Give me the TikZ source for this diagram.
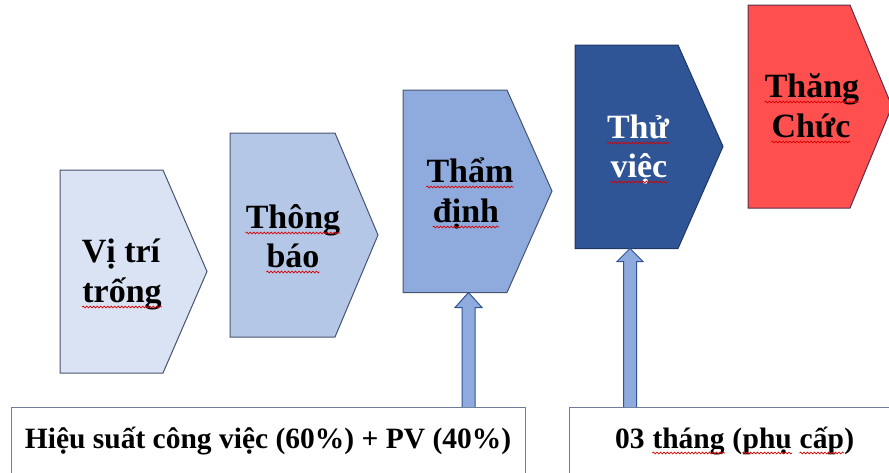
\documentclass[tikz,border=0pt]{standalone}
\usepackage{fontspec}
\setmainfont{Liberation Serif}
\usepackage{xcolor}
\usepackage{tikz}
\usetikzlibrary{calc}
\usetikzlibrary{positioning}
\usetikzlibrary{decorations.pathmorphing}

\definecolor{paleblue}{HTML}{DAE3F3}
\definecolor{lightblue}{HTML}{B4C7E7}
\definecolor{midblue}{HTML}{8FAADC}
\definecolor{darkblue}{HTML}{2F5597}
\definecolor{hotred}{HTML}{FF4F4F}
\definecolor{edgegray}{HTML}{475470}
\definecolor{edgenavy}{HTML}{1F3864}
\definecolor{edgeplum}{HTML}{5C2E4E}
\definecolor{boxgray}{HTML}{6E7E96}

\tikzset{
  chev/.style={draw=edgegray, line width=1pt, line join=miter},
  big/.style={font=\fontsize{34}{39}\selectfont\bfseries, anchor=base, inner sep=0pt},
  small/.style={font=\fontsize{29.5}{34}\selectfont\bfseries, anchor=base, inner sep=0pt},
  note/.style={draw=boxgray, line width=1.2pt, fill=white, anchor=north west},
  fatarrow/.style={draw=darkblue, fill=midblue, line width=1pt, line join=miter},
  squig/.style={draw=red!85!black, line width=0.7pt, decorate, decoration={snake, amplitude=0.9pt, segment length=3.5pt}}
}

\begin{document}
\begin{tikzpicture}[x=1pt,y=-1pt]
        
        \useasboundingbox (0,0) rectangle (889,472);
        
        % steps
        \draw[chev, fill=paleblue] (60,170) -- (163,170) -- (207,271.5) -- (163,373) -- (60,373) -- cycle;
        \draw[chev, fill=lightblue] (230,133) -- (335,133) -- (378,235) -- (335,337) -- (230,337) -- cycle;
        \draw[chev, fill=midblue] (403,90) -- (507,90) -- (552,191) -- (507,292.5) -- (403,292.5) -- cycle;
        \draw[chev, draw=edgenavy, fill=darkblue] (575,45) -- (678,45) -- (723,146.5) -- (678,248.5) -- (575,248.5) -- cycle;
        \draw[chev, draw=edgeplum, fill=hotred] (748,5) -- (850,5) -- (892,106.5) -- (850,208) -- (748,208) -- cycle;
        
        \node[big] (vitri) at (121,262) {Vị trí};
        \node[big] (trong) at (122,302) {trống};
        \node[big] (thong) at (293,228) {Thông};
        \node[big] (bao) at (293,267) {báo};
        \node[big] (tham) at (470,182) {Thẩm};
        \node[big] (dinh) at (466,222) {định};
        \node[big, text=white] (thu) at (638,138) {Thử};
        \node[big, text=white] (viec) at (639,177) {việc};
        \node[big] (thang) at (812,97) {Thăng};
        \node[big] (chuc) at (811,137) {Chức};
        
        % notes
        \node[note, minimum width=514, minimum height=90] (box1) at (11,407) {};
        \node[note, minimum width=340, minimum height=90] (box2) at (569,407) {};
        
        \node[small] (hieusuat) at (268,448) {Hiệu suất công việc (60\%) + PV (40\%)};
        
        \node[small, anchor=base west] (w03) at (615,448) {03};
        \node[small, base right=7.4pt of w03] (wthang) {tháng};
        \node[small, base right=7.4pt of wthang] (wopen) {(};
        \node[small, base right=0pt of wopen] (wphu) {phụ};
        \node[small, base right=7.4pt of wphu] (wcap) {cấp};
        \node[small, base right=0pt of wcap] (wclose) {)};
        
        % spell-check waves
        \draw[squig] ([yshift=-5pt]trong.base west) -- ([yshift=-5pt]trong.base east);
        \draw[squig] ([yshift=-5pt]thong.base west) -- ([yshift=-5pt]thong.base east);
        \draw[squig] ([yshift=-5pt]bao.base west) -- ([yshift=-5pt]bao.base east);
        \draw[squig] ([yshift=-5pt]tham.base west) -- ([yshift=-5pt]tham.base east);
        \draw[squig] ([yshift=-5pt]dinh.base west) -- ([yshift=-5pt]dinh.base east);
        \draw[squig] ([yshift=-5pt]thu.base west) -- ([yshift=-5pt]thu.base east);
        \draw[squig] ([yshift=-5pt]viec.base west) -- ([yshift=-5pt]viec.base east);
        \draw[squig] ([yshift=-5pt]thang.base west) -- ([yshift=-5pt]thang.base east);
        \draw[squig] ([yshift=-5pt]chuc.base west) -- ([yshift=-5pt]chuc.base east);
        \draw[squig] ([yshift=-5pt]wthang.base west) -- ([yshift=-5pt]wthang.base east);
        \draw[squig] ([yshift=-5pt]wphu.base west) -- ([yshift=-5pt]wphu.base east);
        \draw[squig] ([yshift=-5pt]wcap.base west) -- ([yshift=-5pt]wcap.base east);
        
        % arrows up
        \coordinate (tip1) at (468.5,292.5);
        \coordinate (tip2) at (630,248.5);
        
        \draw[fatarrow] ($(box1.north -| tip1)+(-6.5,0)$) -- ($(tip1)+(-6.5,15)$) -- ($(tip1)+(-13.5,15)$) -- (tip1) -- ($(tip1)+(13.5,15)$) -- ($(tip1)+(6.5,15)$) -- ($(box1.north -| tip1)+(6.5,0)$);
        \draw[fatarrow] ($(box2.north -| tip2)+(-6.5,0)$) -- ($(tip2)+(-6.5,13)$) -- ($(tip2)+(-13,13)$) -- (tip2) -- ($(tip2)+(13,13)$) -- ($(tip2)+(6.5,13)$) -- ($(box2.north -| tip2)+(6.5,0)$);
        
    \end{tikzpicture}
\end{document}
